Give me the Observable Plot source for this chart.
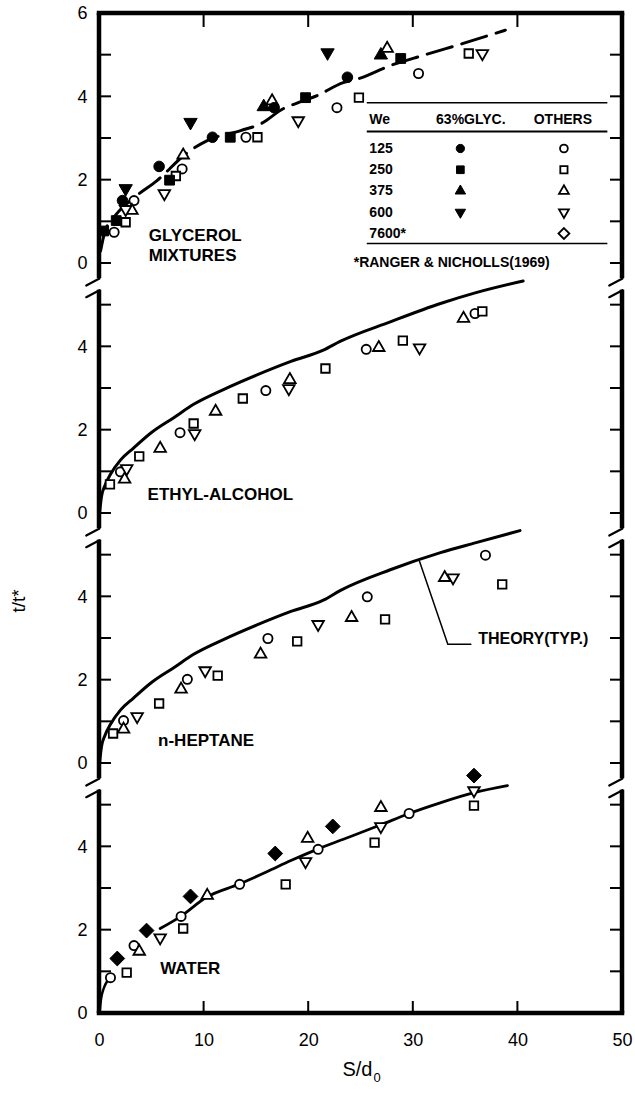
<!DOCTYPE html>
<html><head><meta charset="utf-8">
<script src="https://cdn.jsdelivr.net/npm/d3@7"></script>
<script src="https://cdn.jsdelivr.net/npm/@observablehq/plot@0.6"></script>
<style>body{margin:0;background:#fff;} #layer{position:absolute;left:300px;top:420px;width:20px;height:20px;background:rgba(255,255,255,0.9);}</style>
</head><body><div id="chart"></div><div id="layer"></div>
<script>
// ---------- data ----------
// Panels stacked bottom -> top, each occupying a 6-unit block of t/t*
const panelOrder = ["water", "heptane", "ethyl", "glycerol"];
const panelSpan = 6;
const breakLevel = 5.5;
const xTickMarks = [10, 20, 30, 40];
const xTickLabels = [0, 10, 20, 30, 40, 50];
const yTickLabelsPerPanel = [0, 2, 4];

// points: [We, S/d0, t/t*]
const glycerolGlyc = [
  ["125", 2.2, 1.51], ["125", 5.7, 2.33], ["125", 10.8, 3.03], ["125", 16.7, 3.74], ["125", 23.7, 4.47],
  ["250", 0.4, 0.78], ["250", 1.6, 1.03], ["250", 6.7, 2.0], ["250", 12.5, 3.03], ["250", 19.7, 3.98], ["250", 28.8, 4.92],
  ["375", 15.7, 3.76], ["375", 26.9, 5.0],
  ["600", 2.5, 1.8], ["600", 8.7, 3.39], ["600", 21.8, 5.06]
];
const glycerolOthers = [
  ["125", 1.4, 0.75], ["125", 3.3, 1.51], ["125", 7.9, 2.27], ["125", 14.0, 3.03], ["125", 22.7, 3.74], ["125", 30.5, 4.56],
  ["250", 2.5, 0.99], ["250", 7.3, 2.1], ["250", 15.1, 3.03], ["250", 24.8, 3.98], ["250", 35.3, 5.04],
  ["375", 3.1, 1.27], ["375", 8.0, 2.6], ["375", 16.5, 3.9], ["375", 27.5, 5.16],
  ["600", 2.5, 1.3], ["600", 6.2, 1.68], ["600", 19.0, 3.43], ["600", 36.6, 5.04]
];
const ethylOthers = [
  ["125", 2.0, 1.0], ["125", 7.7, 1.94], ["125", 15.9, 2.95], ["125", 25.5, 3.94], ["125", 35.9, 4.8],
  ["250", 1.0, 0.7], ["250", 3.8, 1.37], ["250", 9.0, 2.16], ["250", 13.7, 2.76], ["250", 21.6, 3.48], ["250", 29.0, 4.15], ["250", 36.6, 4.85],
  ["375", 2.4, 0.82], ["375", 5.8, 1.56], ["375", 11.1, 2.45], ["375", 18.2, 3.21], ["375", 26.7, 3.98], ["375", 34.8, 4.68],
  ["600", 2.6, 1.08], ["600", 9.1, 1.92], ["600", 18.1, 3.0], ["600", 30.6, 3.98]
];
const heptaneOthers = [
  ["125", 2.3, 1.03], ["125", 8.4, 2.02], ["125", 16.1, 3.0], ["125", 25.6, 4.0], ["125", 36.9, 5.0],
  ["250", 1.3, 0.72], ["250", 5.7, 1.44], ["250", 11.3, 2.11], ["250", 18.9, 2.93], ["250", 27.3, 3.46], ["250", 38.5, 4.3],
  ["375", 2.3, 0.82], ["375", 7.8, 1.78], ["375", 15.4, 2.62], ["375", 24.1, 3.5], ["375", 33.0, 4.46],
  ["600", 3.6, 1.13], ["600", 10.1, 2.23], ["600", 20.9, 3.34], ["600", 33.8, 4.46]
];
const waterOthers = [
  ["125", 1.05, 0.86], ["125", 3.3, 1.63], ["125", 7.8, 2.33], ["125", 13.4, 3.1], ["125", 20.9, 3.94], ["125", 29.6, 4.8],
  ["250", 2.6, 0.98], ["250", 8.0, 2.04], ["250", 17.8, 3.1], ["250", 26.3, 4.1], ["250", 35.8, 4.99],
  ["375", 3.8, 1.49], ["375", 10.3, 2.83], ["375", 19.9, 4.2], ["375", 26.9, 4.94],
  ["600", 5.8, 1.82], ["600", 19.7, 3.65], ["600", 26.9, 4.49], ["600", 35.8, 5.35]
];
const waterRanger = [
  ["7600", 1.7, 1.32], ["7600", 4.5, 1.99], ["7600", 8.7, 2.81], ["7600", 16.8, 3.84], ["7600", 22.3, 4.49], ["7600", 35.8, 5.71]
];

// theory curves [S/d0, t/t*]
const glycerolTheory = [[0.1,0.3],[0.5,0.75],[1.5,1.15],[3.3,1.58],[5.5,1.99],[8.4,2.66],[10.3,2.95],[13.5,3.19],[15.4,3.35],[17.6,3.72],[19,3.86],[20.8,4.03],[23.3,4.34],[24.7,4.43],[27.8,4.75],[31,5.0],[35,5.3],[38.8,5.6]];
const ethylTheory = [[0,0],[0.2,0.42],[0.5,0.66],[1.05,0.94],[2,1.28],[3.25,1.57],[5,1.95],[7.1,2.3],[9,2.62],[11.9,2.98],[15,3.32],[18.3,3.65],[21.4,3.92],[23,4.13],[27.8,4.6],[32.6,5.04],[36,5.3],[40.5,5.58]];
const heptaneTheory = [[0,0],[0.2,0.42],[0.5,0.66],[1.05,0.94],[2,1.28],[3.25,1.57],[5,1.95],[7.1,2.3],[9,2.62],[11.9,2.98],[15,3.32],[18.3,3.65],[21.4,3.92],[23,4.15],[27.8,4.65],[32.6,5.06],[36,5.3],[40.2,5.59]];
const waterTheoryNear = [[0,0],[0.15,0.35],[0.4,0.6],[0.8,0.8],[1.2,0.92]];
const waterTheory = [[5.8,2.04],[7.7,2.32],[10.3,2.8],[13.3,3.1],[16,3.4],[18.3,3.67],[20.8,3.94],[23.5,4.2],[26.9,4.53],[29.6,4.8],[32.5,5.05],[35.8,5.3],[39,5.47]];
const theoryLeader = [[30.6,4.85],[33.3,2.86],[35.5,2.86]]; // heptane panel

// legend
const legendWe = ["125", "250", "375", "600", "7600*"];
const legendSym = ["125", "250", "375", "600", "7600"];
const legendHasGlyc = [true, true, true, true, false];

// ---------- drawing ----------
const invTriangle = {
  draw(ctx, size) {
    const s3 = Math.sqrt(3);
    const y = -Math.sqrt(size / (s3 * 3));
    ctx.moveTo(0, -y * 2); ctx.lineTo(-s3 * y, y); ctx.lineTo(s3 * y, y); ctx.closePath();
  }
};
const symOf = {"125": "circle", "250": "square", "375": "triangle", "600": invTriangle, "7600": d3.symbolDiamond2};
const rOf = {"125": 4.6, "250": 4.8, "375": 4.3, "600": 4.3, "7600": 5.8};
const off = name => panelOrder.indexOf(name) * panelSpan;
const yTop = panelOrder.length * panelSpan;
const xMin = 0, xMax = 50;

function dots(points, panel, filled) {
  const o = off(panel);
  return Object.keys(symOf).map(we => Plot.dot(points.filter(p => p[0] === we), {
    x: p => p[1], y: p => p[2] + o, symbol: symOf[we], r: rOf[we] * (filled ? 1.15 : 1),
    fill: filled ? "black" : "white", stroke: "black", strokeWidth: filled ? 1 : 1.8
  }));
}
function curve(pts, panel, opts = {}) {
  const o = off(panel);
  return Plot.line(pts, {x: d => d[0], y: d => d[1] + o, stroke: "black", strokeWidth: 3, curve: "monotone-x", ...opts});
}

// frame segments with axis breaks: [x, y1, y2]
const breaks = panelOrder.slice(0, -1).map((p, i) => i * panelSpan + breakLevel);
const gap = 0.14;
const sideSegs = [];
for (const xs of [xMin, xMax]) {
  let start = 0;
  for (const b of breaks) { sideSegs.push([xs, start, b - gap]); start = b + gap; }
  sideSegs.push([xs, start, yTop]);
}
const slashPts = [];
for (const xs of [xMin, xMax]) for (const b of breaks) { slashPts.push([xs, b - gap]); slashPts.push([xs, b + gap]); }
const slashShape = {draw(ctx, l) { ctx.moveTo(0, l / 2); ctx.lineTo(0, -l / 2); }};

const yTickMarks = d3.range(0, yTop + 1);
const yLabels = [];
panelOrder.forEach((p, i) => yTickLabelsPerPanel.forEach(v => yLabels.push(v + i * panelSpan)));
yLabels.push(yTop);

const font = "'Liberation Sans', Arial, sans-serif";
const legendRowY = i => 20.76 - i * 0.51;
const half = 2.25, tickLen = 12;

const marks = [
  // inward ticks (filled rects, pixel-sized through insets)
  Plot.rect(yTickMarks, {x1: () => xMin, x2: () => xMin, y1: d => d, y2: d => d, insetLeft: 0, insetRight: -tickLen, insetTop: -1, insetBottom: -1, fill: "black"}),
  Plot.rect(yTickMarks, {x1: () => xMax, x2: () => xMax, y1: d => d, y2: d => d, insetLeft: -tickLen, insetRight: 0, insetTop: -1, insetBottom: -1, fill: "black"}),
  Plot.rect(xTickMarks, {x1: d => d, x2: d => d, y1: () => 0, y2: () => 0, insetLeft: -1, insetRight: -1, insetTop: -tickLen, insetBottom: 0, fill: "black"}),
  Plot.rect(xTickMarks, {x1: d => d, x2: d => d, y1: () => yTop, y2: () => yTop, insetLeft: -1, insetRight: -1, insetTop: 0, insetBottom: -tickLen - 2, fill: "black"}),
  // frame (filled rects)
  Plot.rect(sideSegs, {x1: d => d[0], x2: d => d[0], y1: d => d[1], y2: d => d[2], insetLeft: -half, insetRight: -half, fill: "black"}),
  Plot.rect([0, yTop], {x1: () => xMin, x2: () => xMax, y1: d => d, y2: d => d, insetLeft: -half, insetRight: -half, insetTop: -half, insetBottom: -half, fill: "black"}),
  Plot.vector(slashPts, {x: d => d[0], y: d => d[1], length: 15, rotate: 62, anchor: "middle", shape: slashShape, strokeWidth: 2.2, stroke: "black"}),
  // tick labels
  Plot.axisY(yLabels, {anchor: "left", tickSize: 0, tickPadding: 12, tickFormat: v => v === yTop ? "6" : String(v % panelSpan), label: null, fontSize: 18}),
  Plot.axisX(xTickLabels, {anchor: "bottom", tickSize: 0, tickPadding: 20, label: null, fontSize: 18}),
  // theory curves
  curve(glycerolTheory, "glycerol", {strokeDasharray: "26,10", strokeWidth: 3}),
  curve(ethylTheory, "ethyl"),
  curve(heptaneTheory, "heptane"),
  curve(waterTheoryNear, "water", {strokeWidth: 2.5}),
  curve(waterTheory, "water", {strokeWidth: 2.8}),
  Plot.line(theoryLeader, {x: d => d[0], y: d => d[1] + off("heptane"), stroke: "black", strokeWidth: 1.5}),
  // data points
  ...dots(glycerolOthers, "glycerol", false),
  ...dots(glycerolGlyc, "glycerol", true),
  ...dots(ethylOthers, "ethyl", false),
  ...dots(heptaneOthers, "heptane", false),
  ...dots(waterOthers, "water", false),
  ...dots(waterRanger, "water", true),
  // panel labels
  Plot.text(["GLYCEROL\nMIXTURES"], {x: 4.7, y: 0.46 + off("glycerol"), text: d => d, textAnchor: "start", fontSize: 17, fontWeight: "bold", lineHeight: 1.2}),
  Plot.text(["ETHYL-ALCOHOL"], {x: 4.6, y: 0.46 + off("ethyl"), text: d => d, textAnchor: "start", fontSize: 17, fontWeight: "bold"}),
  Plot.text(["n-HEPTANE"], {x: 5.6, y: 0.55 + off("heptane"), text: d => d, textAnchor: "start", fontSize: 17, fontWeight: "bold"}),
  Plot.text(["WATER"], {x: 5.8, y: 1.08 + off("water"), text: d => d, textAnchor: "start", fontSize: 17, fontWeight: "bold"}),
  Plot.text(["THEORY(TYP.)"], {x: 36.2, y: 3.0 + off("heptane"), text: d => d, textAnchor: "start", fontSize: 16, fontWeight: "bold"}),
  // legend
  Plot.ruleY([21.86], {x1: 25.6, x2: 48.6, strokeWidth: 1.5, stroke: "black"}),
  Plot.ruleY([21.17], {x1: 25.6, x2: 48.6, strokeWidth: 2, stroke: "black"}),
  Plot.ruleY([18.48], {x1: 25.6, x2: 48.6, strokeWidth: 1.5, stroke: "black"}),
  Plot.text(["We"], {x: 25.8, y: 21.45, text: d => d, textAnchor: "start", fontSize: 14, fontWeight: "bold"}),
  Plot.text(["63%GLYC."], {x: 35.5, y: 21.45, text: d => d, fontSize: 14, fontWeight: "bold"}),
  Plot.text(["OTHERS"], {x: 44.3, y: 21.45, text: d => d, fontSize: 14, fontWeight: "bold"}),
  Plot.text(legendWe, {x: 25.8, y: (d, i) => legendRowY(i), text: d => d, textAnchor: "start", fontSize: 14, fontWeight: "bold"}),
  ...legendSym.map((we, i) => Plot.dot([we].filter(() => legendHasGlyc[i]), {x: 34.5, y: legendRowY(i), symbol: symOf[we], r: rOf[we] * 0.9, fill: "black", stroke: "black", strokeWidth: 1})),
  ...legendSym.map((we, i) => Plot.dot([we], {x: 44.4, y: legendRowY(i), symbol: symOf[we], r: rOf[we] * 0.85, fill: "white", stroke: "black", strokeWidth: 1.8})),
  Plot.text(["*RANGER & NICHOLLS(1969)"], {x: 24.3, y: 18.02, text: d => d, textAnchor: "start", fontSize: 14, fontWeight: "bold"}),
  // axis titles
  Plot.text(["t/t*"], {x: 0, y: 9.9, text: d => d, dx: -81, rotate: -90, fontSize: 19}),
  Plot.text(["S/d"], {frameAnchor: "bottom", x: 26.1, text: d => d, textAnchor: "end", dy: 62, fontSize: 20}),
  Plot.text(["0"], {frameAnchor: "bottom", x: 26.1, text: d => d, textAnchor: "start", dx: 1, dy: 68, fontSize: 13})
];

const chart = Plot.plot({
  width: 635, height: 1101,
  marginLeft: 99, marginRight: 13, marginTop: 13, marginBottom: 88,
  style: {fontFamily: font, color: "black", background: "white"},
  x: {domain: [xMin, xMax]},
  y: {domain: [0, yTop]},
  marks
});
document.getElementById("chart").appendChild(chart);
</script>
</body></html>
